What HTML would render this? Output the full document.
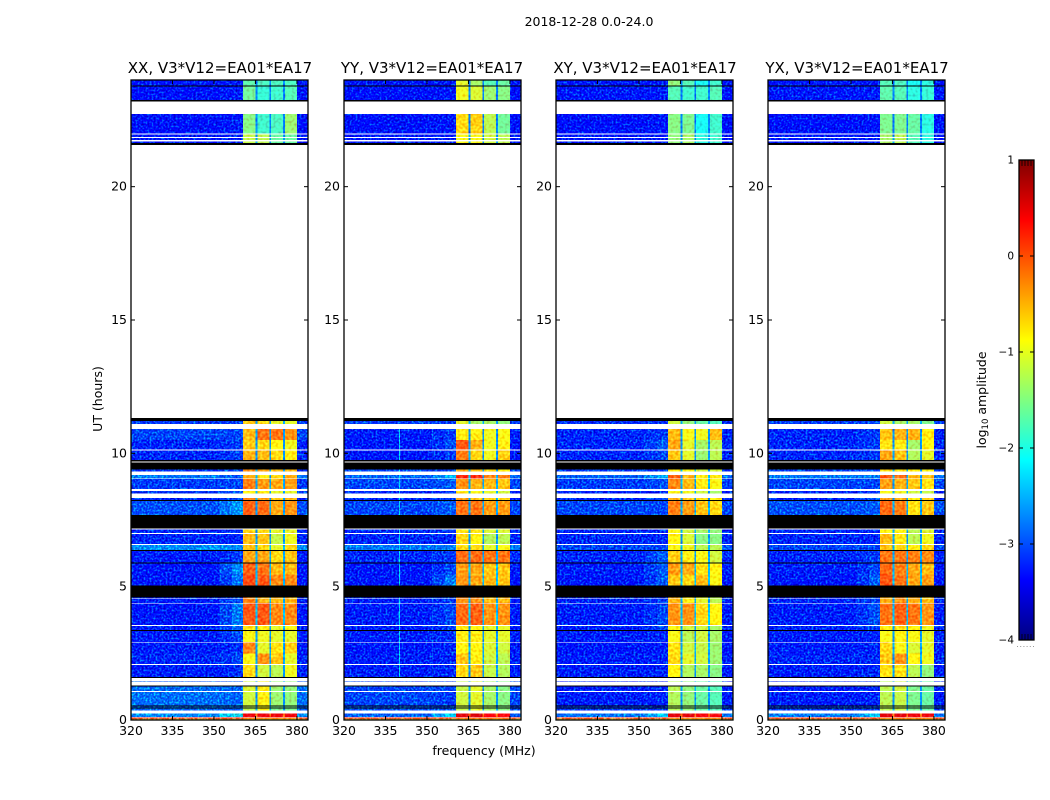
<!DOCTYPE html>
<html lang="en">
<head>
<meta charset="utf-8">
<title>2018-12-28 dynamic spectra</title>
<style>
html,body{margin:0;padding:0;background:#fff;width:1050px;height:800px;overflow:hidden}
svg{display:block}
text{font-family:"DejaVu Sans","Liberation Sans",sans-serif;fill:#000}
</style>
</head>
<body>
<svg id="chart" xmlns="http://www.w3.org/2000/svg" width="1050" height="800" viewBox="0 0 1050 800">
  <defs>
    <filter id="speckle-strong" x="0" y="0" width="1" height="1" color-interpolation-filters="sRGB">
      <feTurbulence type="fractalNoise" baseFrequency="0.5" numOctaves="2" seed="7" result="n"/>
      <feColorMatrix in="n" type="matrix" values="0 0 0 0 0.3  0 3 0 0 -1.3  0 3 0 0 -0.7  0 0 0 0 1" result="m"/>
      <feComposite in="SourceGraphic" in2="m" operator="arithmetic" k1="0" k2="1" k3="0.6" k4="-0.3" result="c"/>
      <feComposite in="c" in2="SourceAlpha" operator="in"/>
    </filter>
    <filter id="speckle-soft" x="0" y="0" width="1" height="1" color-interpolation-filters="sRGB">
      <feTurbulence type="fractalNoise" baseFrequency="0.38" numOctaves="1" seed="11" result="n"/>
      <feColorMatrix in="n" type="matrix" values="0 0 0 0 0.5  0 1.2 0 0 -0.1  0 0.6 0 0 0.3  0 0 0 0 1" result="m"/>
      <feComposite in="SourceGraphic" in2="m" operator="arithmetic" k1="0" k2="1" k3="0.6" k4="-0.3" result="c"/>
      <feComposite in="c" in2="SourceAlpha" operator="in"/>
    </filter>
    <linearGradient id="jet-gradient" x1="0" y1="1" x2="0" y2="0"></linearGradient>
  </defs>

  <text x="589" y="26" text-anchor="middle" font-size="12.5">2018-12-28 0.0-24.0</text>

  <g id="panel-xx" data-x="131" data-key="xx"></g>
  <g id="panel-yy" data-x="344" data-key="yy"></g>
  <g id="panel-xy" data-x="556" data-key="xy"></g>
  <g id="panel-yx" data-x="768" data-key="yx"></g>

  <text x="220" y="73" text-anchor="middle" font-size="15">XX, V3*V12=EA01*EA17</text>
  <text x="432" y="73" text-anchor="middle" font-size="15">YY, V3*V12=EA01*EA17</text>
  <text x="645" y="73" text-anchor="middle" font-size="15">XY, V3*V12=EA01*EA17</text>
  <text x="857" y="73" text-anchor="middle" font-size="15">YX, V3*V12=EA01*EA17</text>

  <text transform="translate(102,399) rotate(-90)" text-anchor="middle" font-size="12.5">UT (hours)</text>
  <text x="484" y="755" text-anchor="middle" font-size="12.5">frequency (MHz)</text>

  <g id="colorbar"></g>
  <text transform="translate(986,400) rotate(-90)" text-anchor="middle" font-size="12.5">log<tspan font-size="8.5" dy="2">10</tspan><tspan dy="-2"> amplitude</tspan></text>
</svg>

<script>
// Axis tick labels
const freqTicks = [320, 335, 350, 365, 380];
const utTicks = [0, 5, 10, 15, 20];
const colorbarTicks = [1, 0, -1, -2, -3, -4];

// Frequency channels (MHz): background, shoulder, then four spectral windows split by gaps
const freqEdges = [320, 352, 356.5, 360.5, 365, 365.7, 370, 370.7, 375, 375.7, 380, 384];

// Unflagged time ranges in UT hours [start, end]
const rowSpans = [
  [24.0,23.79],[23.75,23.25],[22.73,22.0],[21.96,21.86],[21.83,21.75],[21.69,21.64],
  [11.21,11.1],[10.91,10.5],[10.5,10.15],[10.11,9.75],[9.4,9.31],[9.19,9.06],
  [9.03,8.66],[8.59,8.5],[8.33,8.25],[8.21,7.69],[7.15,7.01],[6.98,6.6],
  [6.56,6.38],[6.34,5.91],[5.87,5.45],[5.45,5.04],[4.6,4.56],[4.54,4.39],
  [4.36,3.56],[3.53,3.38],[3.34,2.93],[2.9,2.5],[2.5,2.1],[2.06,1.61],
  [1.46,1.44],[1.25,1.09],[1.05,0.54],[0.5,0.46],[0.43,0.35],[0.25,0.12],
  [0.1,0.05],[0.05,0]
];

// Fully flagged (black) time ranges in UT hours
const blackSpans = [
  [23.79,23.75],[23.25,23.19],[21.64,21.57],[11.33,11.21],[9.75,9.69],[9.65,9.4],
  [8.25,8.21],[7.69,7.19],[6.38,6.34],[5.91,5.87],[5.04,4.6],[3.38,3.34],
  [1.61,1.57],[1.29,1.25],[0.54,0.5],[0.46,0.43]
];

// Amplitude between spectral windows, one per time range
const gapLevels = [
  -2.75,-2.75,-2.75,-2.65,-2.65,-2.65,-2.55,-2.65,-2.65,-2.65,-2.55,-2.55,-2.55,-2.55,-2.55,-2.55,-2.55,-2.65,
  -2.45,-2.55,-2.45,-2.45,-2.55,-2.55,-2.45,-2.55,-2.65,-2.55,-2.55,-2.65,-2.65,-2.65,-2.65,-2.65,-2.55,-0.2,0.1,-0.7
];

// log10 amplitude per time range: [background, shoulder, window1, window2, window3, window4]
const xxLevels = [
  [-3.1,-3.1,-1.65,-1.75,-1.75,-1.75],[-3.15,-3.05,-1.55,-1.85,-1.8,-1.7],[-3.15,-3.05,-1.45,-1.8,-1.75,-1.35],
  [-3.1,-3,-1.15,-1.2,-1.6,-1.6],[-3.1,-3,-1.15,-1.2,-1.6,-1.6],[-3.1,-3,-1.15,-1.2,-1.6,-1.6],
  [-2.9,-2.9,-0.6,-0.7,-1,-1],[-2.85,-2.85,-0.55,-0.2,-0.2,-0.35],[-3,-2.9,-0.65,-0.7,-0.85,-0.95],
  [-3,-2.9,-0.5,-0.55,-0.7,-0.8],[-2.9,-2.8,-0.35,-0.45,-0.55,-0.55],[-2.6,-2.8,-0.5,-0.8,-0.7,-0.5],
  [-2.9,-2.85,-0.25,-0.4,-0.45,-0.4],[-2.9,-2.8,-0.8,-0.8,-1,-1],[-3,-2.8,-0.3,-0.45,-0.6,-0.55],
  [-2.8,-2.45,-0.1,-0.15,-0.45,-0.35],[-3,-2.9,-0.7,-0.7,-1,-1],[-3,-3,-0.55,-0.6,-1.15,-0.95],
  [-2.5,-2.5,-0.6,-0.7,-1,-0.7],[-3.05,-2.9,-0.45,-0.45,-0.7,-0.6],[-3.1,-2.5,-0.1,-0.2,-0.55,-0.55],
  [-3.1,-2.65,0,-0.05,-0.3,-0.3],[-3,-2.8,-0.3,-0.5,-0.55,-0.55],[-3.05,-2.8,-0.3,-0.5,-0.55,-0.55],
  [-3.1,-2.6,-0.05,-0.05,-0.3,-0.3],[-3.05,-2.65,-0.75,-0.8,-1,-0.9],[-3.05,-2.85,-0.9,-0.95,-1,-1],
  [-3.05,-2.95,-0.3,-1,-0.75,-0.65],[-3,-2.85,-0.9,-0.35,-0.6,-1],[-3.05,-2.95,-0.7,-1.1,-1.2,-0.95],
  [-2.75,-2.75,-1.1,-0.8,-1.35,-1.4],[-2.65,-2.7,-1.05,-0.8,-1.35,-1.4],[-2.65,-2.7,-1.1,-0.8,-1.35,-1.4],
  [-2.7,-2.7,-1.2,-0.9,-1.5,-1.5],[-2.7,-2.7,-1.2,-0.9,-1.5,-1.5],[-2.5,-1.9,0.45,0.45,0.45,0.45],
  [0.05,0.05,0.1,0.1,0.1,0.1],[-0.65,-0.65,-0.7,-0.7,-0.7,-0.7]
];
const yyLevels = [
  [-3.1,-3.1,-1,-1.3,-1.7,-1.6],[-3.15,-3.1,-0.95,-1.05,-1.35,-1.45],[-3.15,-3.1,-0.7,-0.65,-1.2,-1.55],
  [-3.1,-3.1,-0.9,-0.9,-1.1,-1.2],[-3.1,-3.1,-0.9,-0.9,-1.1,-1.2],[-3.1,-3.1,-0.9,-0.9,-1.1,-1.2],
  [-2.9,-2.9,-1,-1.3,-1.3,-1.4],[-3.05,-2.9,-0.8,-0.8,-0.95,-0.9],[-3.1,-2.8,-0.05,-0.5,-0.95,-0.8],
  [-3.1,-2.9,-0.25,-0.7,-0.95,-0.65],[-2.85,-2.8,-0.5,-0.6,-0.7,-0.8],[-2.7,-2.3,0.15,0.15,-0.25,-0.25],
  [-2.85,-2.75,-0.35,-0.5,-0.55,-0.6],[-3,-3,-0.8,-0.9,-1,-1.1],[-3,-2.85,-0.4,-0.6,-0.7,-0.7],
  [-2.85,-2.75,-0.2,-0.2,-0.4,-0.4],[-3,-2.9,-0.75,-0.75,-1.05,-1.05],[-3,-3,-0.7,-0.85,-1.25,-1.2],
  [-2.6,-2.55,-0.7,-0.7,-1,-0.9],[-3,-2.9,-0.15,-0.15,-0.2,-0.2],[-3.1,-2.85,-0.4,-0.45,-0.6,-0.6],
  [-3.1,-2.6,-0.35,-0.45,-0.55,-0.6],[-3,-2.8,-0.3,-0.3,-0.55,-0.55],[-3.05,-2.9,-0.35,-0.35,-0.55,-0.55],
  [-3.05,-2.85,-0.15,-0.1,-0.35,-0.35],[-3.05,-2.9,-0.8,-0.85,-1,-1],[-3.05,-2.95,-0.8,-0.8,-1,-1],
  [-3.1,-3,-0.85,-0.85,-1.05,-1.1],[-3.05,-3,-0.6,-0.8,-1.1,-1.2],[-3.05,-3,-0.7,-0.6,-1.15,-1.25],
  [-2.85,-2.85,-1.15,-1,-1.3,-1.45],[-2.85,-2.85,-1.15,-1,-1.3,-1.45],[-2.85,-2.9,-1.1,-1,-1.3,-1.45],
  [-2.8,-2.8,-1.15,-1,-1.3,-1.45],[-2.8,-2.8,-1.15,-1,-1.3,-1.45],[-2.7,-2.1,0.5,0.55,0.35,0.35],
  [0.1,0.1,0.2,0.2,0.1,0.1],[-0.7,-0.8,-0.6,-0.6,-0.5,-0.5]
];
const xyLevels = [
  [-3.1,-3.1,-1.4,-1.7,-2,-1.8],[-3.1,-3.05,-1.7,-1.8,-1.8,-1.7],[-3.15,-3.1,-1.45,-1.5,-2,-1.8],
  [-3.1,-3.1,-1.4,-1.3,-1.9,-1.8],[-3.1,-3.1,-1.4,-1.3,-1.9,-1.8],[-3.1,-3.1,-1.4,-1.3,-1.9,-1.8],
  [-2.95,-2.95,-1.1,-1.4,-1.6,-1.7],[-3,-2.9,-0.55,-0.9,-0.95,-0.55],[-3,-2.75,-0.45,-1,-1.3,-1.2],
  [-3,-2.85,-0.6,-1,-1.35,-1.2],[-2.9,-2.9,-0.8,-0.9,-1.1,-1.1],[-2.7,-2.4,-0.1,-0.5,-0.8,-0.8],
  [-2.9,-2.8,-0.3,-0.55,-0.8,-0.9],[-3,-3,-0.9,-0.95,-1.1,-1.3],[-3,-2.85,-0.5,-0.6,-0.75,-0.85],
  [-2.85,-2.85,-0.25,-0.4,-0.6,-0.7],[-3,-3,-0.9,-1.1,-1.3,-1.4],[-3,-3,-0.85,-1.05,-1.45,-1.45],
  [-2.85,-2.85,-0.9,-0.95,-1.2,-1.2],[-3,-2.75,-0.65,-0.8,-0.9,-1.1],[-3.05,-2.75,-0.4,-0.45,-0.75,-0.85],
  [-3.1,-2.75,-0.6,-0.7,-0.55,-0.9],[-3,-2.9,-0.5,-0.8,-1,-1.2],[-3,-2.9,-0.55,-0.8,-1,-1.2],
  [-3.05,-2.85,-0.35,-0.35,-0.7,-0.85],[-3.05,-2.85,-0.9,-1.1,-1.1,-1.3],[-3.05,-3,-0.9,-1.2,-1.1,-1.3],
  [-3.1,-3.05,-0.75,-1.1,-1.15,-1.35],[-3.05,-3,-0.7,-1,-1.1,-1.35],[-3.05,-3,-0.85,-1.25,-1.3,-1.45],
  [-3,-3,-1.2,-1.4,-1.6,-1.7],[-3.05,-3,-1.2,-1.4,-1.6,-1.7],[-3.05,-3,-1.25,-1.4,-1.6,-1.7],
  [-2.9,-2.9,-1.25,-1.4,-1.6,-1.7],[-2.9,-2.9,-1.25,-1.4,-1.6,-1.7],[-2.6,-2.2,0.5,0.5,0.4,0.4],
  [0,0,0.1,0.1,0,0],[-0.65,-0.65,-0.65,-0.65,-0.65,-0.65]
];
const yxLevels = [
  [-3.1,-3.1,-1.7,-1.75,-2,-1.9],[-3.1,-3.05,-1.65,-1.7,-1.9,-1.85],[-3.15,-3.1,-1.5,-1.5,-1.6,-1.9],
  [-3.1,-3.1,-1.3,-1.2,-1.7,-1.9],[-3.1,-3.1,-1.3,-1.2,-1.7,-1.9],[-3.1,-3.1,-1.3,-1.2,-1.7,-1.9],
  [-2.9,-2.9,-1.1,-1.3,-1.3,-1.5],[-3,-2.9,-0.6,-0.5,-0.5,-0.8],[-3,-2.9,-0.75,-0.8,-1.3,-0.85],
  [-3,-2.9,-0.45,-0.6,-1.25,-1],[-2.85,-2.85,-0.7,-0.75,-0.8,-0.9],[-2.6,-2.6,-0.1,-0.15,-0.55,-0.6],
  [-2.85,-2.85,-0.4,-0.5,-0.6,-0.75],[-3,-3,-0.9,-0.95,-1.1,-1.15],[-3,-2.85,-0.4,-0.5,-0.85,-0.65],
  [-2.8,-2.75,-0.15,-0.25,-0.75,-0.6],[-3,-3,-0.85,-0.85,-1.2,-1.05],[-3,-3,-0.55,-0.8,-1.2,-0.95],
  [-2.85,-2.85,-0.6,-0.7,-0.8,-0.7],[-3,-2.9,-0.2,-0.2,-0.25,-0.3],[-3.05,-2.85,-0.15,-0.25,-0.45,-0.55],
  [-3.1,-2.75,-0.05,-0.2,-0.45,-0.4],[-3,-2.9,-0.5,-0.35,-0.5,-0.6],[-3,-2.85,-0.5,-0.35,-0.5,-0.6],
  [-3.05,-2.8,-0.2,-0.1,-0.2,-0.35],[-3,-2.9,-0.8,-0.75,-0.85,-0.95],[-3.05,-3,-0.9,-0.85,-0.9,-1],
  [-3.05,-3,-0.7,-0.9,-1.05,-1],[-3,-3,-0.6,-0.35,-0.85,-0.95],[-3.05,-3,-0.75,-0.75,-1.2,-1.4],
  [-3,-3,-1.2,-1.1,-1.5,-1.6],[-3.05,-3,-1.2,-1.1,-1.5,-1.6],[-3.05,-3,-1.2,-1.15,-1.5,-1.6],
  [-2.9,-2.9,-1.2,-1.15,-1.5,-1.6],[-2.9,-2.9,-1.2,-1.15,-1.5,-1.6],[-2.6,-2.2,0.5,0.5,0.45,0.45],
  [0,0,0.1,0.1,0,0],[-0.65,-0.65,-0.65,-0.65,-0.65,-0.65]
];

// Narrow interference lines in YY: [frequency MHz, log10 amplitude]
const yyInterference = [[340.1,-2.05],[352,-2.8]];

const svgNS = 'http://www.w3.org/2000/svg';
const levelsByPanel = {xx: xxLevels, yy: yyLevels, xy: xyLevels, yx: yxLevels};
const interferenceByPanel = {xx: [], yy: yyInterference, xy: [], yx: []};

const PANEL_W = 177, PLOT_TOP = 80, PLOT_H = 640;
const FREQ_MIN = 320, FREQ_MAX = 384, UT_MAX = 24;
const LOG_MIN = -4, LOG_MAX = 1;

function xScale(left, f) { return left + (f - FREQ_MIN) / (FREQ_MAX - FREQ_MIN) * PANEL_W; }
function yScale(ut) { return PLOT_TOP + (UT_MAX - ut) / UT_MAX * PLOT_H; }
function clamp01(v) { return Math.max(0, Math.min(1, v)); }
function jetColor(logValue) {
  const f = clamp01((logValue - LOG_MIN) / (LOG_MAX - LOG_MIN));
  const r = clamp01(Math.min(4 * f - 1.5, -4 * f + 4.5));
  const g = clamp01(Math.min(4 * f - 0.5, -4 * f + 3.5));
  const b = clamp01(Math.min(4 * f + 0.5, -4 * f + 2.5));
  return 'rgb(' + Math.round(r * 255) + ',' + Math.round(g * 255) + ',' + Math.round(b * 255) + ')';
}
function make(tag, parent, attrs) {
  const el = document.createElementNS(svgNS, tag);
  for (const k in attrs) el.setAttribute(k, attrs[k]);
  parent.appendChild(el);
  return el;
}

function columnLevel(levels, gap, c) {
  // c indexes the eleven intervals in freqEdges
  if (c === 0 || c === 10) return levels[0];
  if (c === 1) return (levels[0] + levels[1]) / 2;
  if (c === 2) return levels[1];
  if (c === 3) return levels[2];
  if (c === 5) return levels[3];
  if (c === 7) return levels[4];
  if (c === 9) return levels[5];
  return gap;
}

function drawPanel(panel) {
  const left = parseFloat(panel.getAttribute('data-x'));
  const key = panel.getAttribute('data-key');
  const levels = levelsByPanel[key];
  const lines = interferenceByPanel[key];

  const bg = make('rect', panel, {x: left, y: PLOT_TOP, width: PANEL_W, height: PLOT_H, fill: '#fff'});
  
  

  const bgGroup = make('g', panel, {filter: 'url(#speckle-strong)', 'shape-rendering': 'crispEdges'});
  
  
  const bandGroup = make('g', panel, {filter: 'url(#speckle-soft)', 'shape-rendering': 'crispEdges'});
  
  

  rowSpans.forEach(function (span, r) {
    const y0 = yScale(span[0]), y1 = yScale(span[1]);
    for (let c = 0; c < freqEdges.length - 1; c++) {
      const x0 = xScale(left, freqEdges[c]), x1 = xScale(left, freqEdges[c + 1]);
      const isBackground = c < 3 || c === 10;
      const cell = make('rect', isBackground ? bgGroup : bandGroup, {
        x: x0, y: y0, width: x1 - x0, height: y1 - y0,
        fill: jetColor(columnLevel(levels[r], gapLevels[r], c))
      });
      
      
    }
    if (span[0] < 11 && span[1] > 1.5) {
      lines.forEach(function (line) {
        const mark = make('rect', bgGroup, {
          x: xScale(left, line[0]) - 0.5, y: y0, width: 1, height: y1 - y0,
          fill: jetColor(line[1])
        });
        
        
      });
    }
  });

  const blacks = make('g', panel, {'shape-rendering': 'crispEdges'});
  
  
  blackSpans.forEach(function (span) {
    const y0 = yScale(span[0]), y1 = yScale(span[1]);
    const row = make('rect', blacks, {x: left, y: y0, width: PANEL_W, height: y1 - y0, fill: '#000'});
    
    
  });

  const frame = make('rect', panel, {x: left, y: PLOT_TOP, width: PANEL_W, height: PLOT_H, fill: 'none', stroke: '#000', 'stroke-width': 1.3});
  
  

  freqTicks.forEach(function (t) {
    const x = xScale(left, t);
    const bottomTick = make('line', panel, {x1: x, x2: x, y1: PLOT_TOP + PLOT_H, y2: PLOT_TOP + PLOT_H - 4, stroke: '#000', 'stroke-width': 1});
    
    
    const topTick = make('line', panel, {x1: x, x2: x, y1: PLOT_TOP, y2: PLOT_TOP + 4, stroke: '#000', 'stroke-width': 1});
    
    
    const label = make('text', panel, {x: x, y: 735, 'text-anchor': 'middle', 'font-size': 12.5});
    
    
    label.textContent = String(t);
  });

  utTicks.forEach(function (t) {
    const y = yScale(t);
    const leftTick = make('line', panel, {x1: left, x2: left + 4, y1: y, y2: y, stroke: '#000', 'stroke-width': 1});
    
    
    const rightTick = make('line', panel, {x1: left + PANEL_W, x2: left + PANEL_W - 4, y1: y, y2: y, stroke: '#000', 'stroke-width': 1});
    
    
    const label = make('text', panel, {x: left - 4, y: y + 4, 'text-anchor': 'end', 'font-size': 12.5});
    
    
    label.textContent = String(t);
  });
}

function drawColorbar() {
  const bar = document.getElementById('colorbar');
  const gradient = document.getElementById('jet-gradient');
  for (let i = 0; i <= 40; i++) {
    const p = i / 40;
    make('stop', gradient, {offset: p, 'stop-color': jetColor(LOG_MIN + p * (LOG_MAX - LOG_MIN))});
  }
  const cbX = 1019, cbW = 15, cbTop = 160, cbH = 480;
  const cbY = function (v) { return cbTop + (LOG_MAX - v) / (LOG_MAX - LOG_MIN) * cbH; };

  const fill = make('rect', bar, {x: cbX, y: cbTop, width: cbW, height: cbH, fill: 'url(#jet-gradient)', stroke: '#000', 'stroke-width': 1.3});
  
  

  colorbarTicks.forEach(function (v) {
    const y = cbY(v);
    const a = make('line', bar, {x1: cbX, x2: cbX + 4, y1: y, y2: y, stroke: '#000', 'stroke-width': 1});
    
    
    const b = make('line', bar, {x1: cbX + cbW, x2: cbX + cbW - 4, y1: y, y2: y, stroke: '#000', 'stroke-width': 1});
    
    
    const label = make('text', bar, {x: cbX - 5, y: y + 3.5, 'text-anchor': 'end', 'font-size': 10.5});
    
    
    label.textContent = v < 0 ? '\u2212' + Math.abs(v) : String(v);
  });

  for (let i = 1; i < 5; i++) {
    const x = cbX + i * 3;
    const top = make('line', bar, {x1: x, x2: x, y1: cbTop, y2: cbTop + 6, stroke: '#000', 'stroke-width': 0.8});
    
    
    const bottom = make('line', bar, {x1: x, x2: x, y1: cbTop + cbH, y2: cbTop + cbH - 6, stroke: '#000', 'stroke-width': 0.8});
    
    
  }

  for (let i = 0; i < 6; i++) {
    const dot = make('rect', bar, {x: 1017 + i * 3.2, y: 646, width: 1, height: 1, fill: '#999'});
    
    
  }
}

['panel-xx', 'panel-yy', 'panel-xy', 'panel-yx'].forEach(function (id) {
  drawPanel(document.getElementById(id));
});
drawColorbar();
</script>
</body>
</html>
